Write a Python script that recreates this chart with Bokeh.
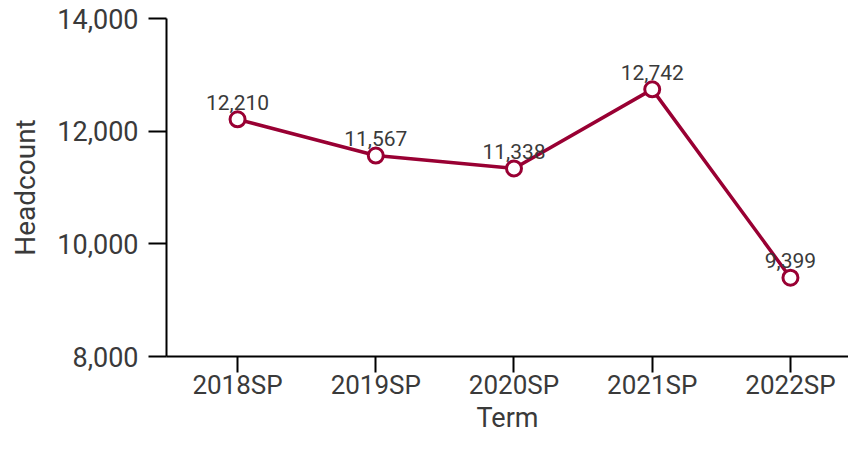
from bokeh.plotting import figure
from bokeh.models import Range1d, FixedTicker, ColumnDataSource, NumeralTickFormatter
from bokeh.core.properties import value
from bokeh.embed import file_html
from bokeh.resources import INLINE

terms = ["2018SP", "2019SP", "2020SP", "2021SP", "2022SP"]
headcount = [12210, 11567, 11338, 12742, 9399]
y_ticks = [8000, 10000, 12000, 14000]
x_title = "Term"
y_title = "Headcount"

FONT = "Roboto"
TXT = "#3a3a3a"
RED = "#990033"

idx = list(range(len(terms)))
src = ColumnDataSource(dict(x=idx, y=headcount, lab=[f"{v:,}" for v in headcount]))

p = figure(width=848, height=436, output_backend="svg", toolbar_location=None,
           x_range=Range1d(-0.514, 4.42), y_range=Range1d(8000, 14000),
           min_border_left=166, min_border_right=0, min_border_top=18, min_border_bottom=40)
p.outline_line_color = None
p.grid.visible = False
p.background_fill_color = "white"

p.line("x", "y", source=src, line_color=RED, line_width=3.5)
p.scatter("x", "y", source=src, size=15, fill_color="white", line_color=RED, line_width=3)
p.text("x", "y", text="lab", source=src, text_align="center", text_baseline="alphabetic",
       y_offset=-17, text_font=value(FONT), text_font_size="21px", text_color=TXT)

p.xaxis.ticker = FixedTicker(ticks=idx)
p.xaxis.major_label_overrides = {i: t for i, t in enumerate(terms)}
p.yaxis.ticker = FixedTicker(ticks=y_ticks)
p.yaxis.formatter = NumeralTickFormatter(format="0,0")

for ax in (p.xaxis[0], p.yaxis[0]):
    ax.axis_line_width = 2
    ax.axis_line_color = "black"
    ax.major_tick_line_width = 2
    ax.major_tick_line_color = "black"
    ax.major_tick_in = 0
    ax.minor_tick_line_color = None
    ax.major_label_text_font = FONT
    ax.major_label_text_color = TXT
    ax.axis_label_text_font = FONT
    ax.axis_label_text_color = TXT
    ax.axis_label_text_font_style = "normal"

p.yaxis.major_tick_out = 18
p.xaxis.major_tick_out = 16
p.xaxis.major_label_text_font_size = "26px"
p.yaxis.major_label_text_font_size = "27px"
p.xaxis.major_label_standoff = -3
p.yaxis.major_label_standoff = 10
p.xaxis.axis_label = x_title
p.yaxis.axis_label = y_title
p.xaxis.axis_label_text_font_size = "27px"
p.yaxis.axis_label_text_font_size = "28px"
p.xaxis.axis_label_standoff = -1
p.yaxis.axis_label_standoff = 12

open("out.html", "w").write(file_html(p, INLINE))
